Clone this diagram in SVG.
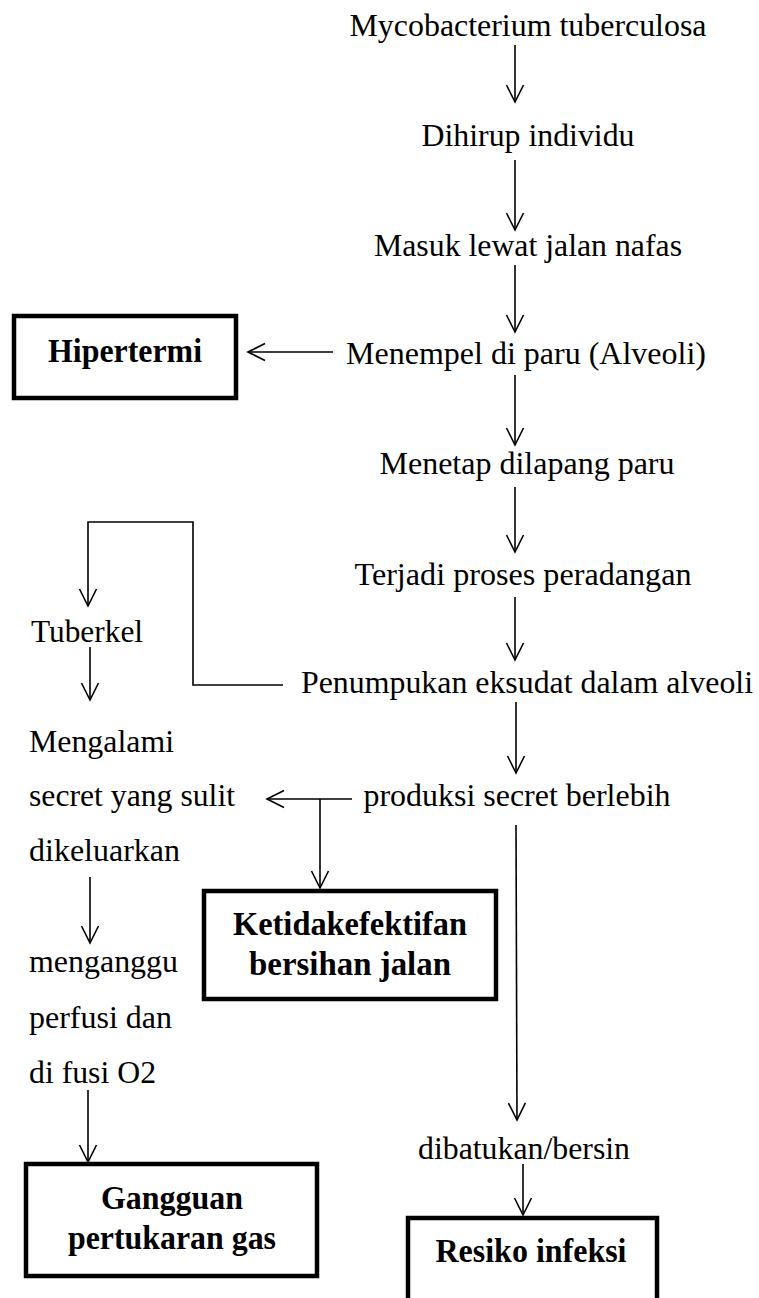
<svg xmlns="http://www.w3.org/2000/svg" width="759" height="1298" viewBox="0 0 759 1298">
<style>
  .t { font-family: "Liberation Serif", "Times New Roman", serif; font-size: 32px; fill: #000; }
  .c { text-anchor: middle; }
  .b { font-family: "Liberation Serif", "Times New Roman", serif; font-size: 34px; font-weight: bold; fill: #000; text-anchor: middle; }
  .box { fill: #fff; stroke: #000; stroke-width: 4.5; }
  .ln { fill: none; stroke: #000; stroke-width: 1.6; }
</style>
<defs>
  <marker id="ah" viewBox="-20 -11 22 22" refX="0" refY="0" markerWidth="22" markerHeight="22" markerUnits="userSpaceOnUse" orient="auto">
    <path d="M-17,-8.5 L0,0 L-17,8.5" fill="none" stroke="#000" stroke-width="1.6"/>
  </marker>
</defs>
<rect x="0" y="0" width="759" height="1298" fill="#fff"/>

<g id="connectors">
  <line class="ln" x1="515" y1="45" x2="515" y2="102" marker-end="url(#ah)"/>
  <line class="ln" x1="515" y1="160" x2="515" y2="230" marker-end="url(#ah)"/>
  <line class="ln" x1="515" y1="265" x2="515" y2="332" marker-end="url(#ah)"/>
  <line class="ln" x1="333" y1="352" x2="248" y2="352" marker-end="url(#ah)"/>
  <line class="ln" x1="515" y1="375" x2="515" y2="445" marker-end="url(#ah)"/>
  <line class="ln" x1="515" y1="487" x2="515" y2="552" marker-end="url(#ah)"/>
  <line class="ln" x1="515" y1="597" x2="515" y2="660" marker-end="url(#ah)"/>
  <polyline class="ln" points="283,685 193,685 193,522 88,522 88,606" marker-end="url(#ah)"/>
  <line class="ln" x1="90" y1="647" x2="90" y2="700" marker-end="url(#ah)"/>
  <line class="ln" x1="516" y1="702" x2="516" y2="773" marker-end="url(#ah)"/>
  <line class="ln" x1="352" y1="799" x2="267" y2="799" marker-end="url(#ah)"/>
  <line class="ln" x1="320" y1="799" x2="320" y2="888" marker-end="url(#ah)"/>
  <line class="ln" x1="516" y1="825" x2="517" y2="1120" marker-end="url(#ah)"/>
  <line class="ln" x1="90" y1="877" x2="90" y2="943" marker-end="url(#ah)"/>
  <line class="ln" x1="88" y1="1090" x2="88" y2="1162" marker-end="url(#ah)"/>
  <line class="ln" x1="523" y1="1164" x2="523" y2="1215" marker-end="url(#ah)"/>
</g>

<g id="n-myco"><text class="t c" x="528" y="36" textLength="357" lengthAdjust="spacingAndGlyphs">Mycobacterium tuberculosa</text></g>
<g id="n-dihirup"><text class="t c" x="528" y="146" textLength="213" lengthAdjust="spacingAndGlyphs">Dihirup individu</text></g>
<g id="n-masuk"><text class="t c" x="528" y="256" textLength="308" lengthAdjust="spacingAndGlyphs">Masuk lewat jalan nafas</text></g>
<g id="n-menempel"><text class="t c" x="526" y="364" textLength="360" lengthAdjust="spacingAndGlyphs">Menempel di paru (Alveoli)</text></g>
<g id="n-hipertermi">
  <rect class="box" x="14" y="316" width="222" height="82"/>
  <text class="b" x="125" y="362" textLength="154" lengthAdjust="spacingAndGlyphs">Hipertermi</text>
</g>
<g id="n-menetap"><text class="t c" x="527" y="474" textLength="295" lengthAdjust="spacingAndGlyphs">Menetap dilapang paru</text></g>
<g id="n-terjadi"><text class="t c" x="523" y="585" textLength="337" lengthAdjust="spacingAndGlyphs">Terjadi proses peradangan</text></g>
<g id="n-penumpukan"><text class="t c" x="527" y="693" textLength="452" lengthAdjust="spacingAndGlyphs">Penumpukan eksudat dalam alveoli</text></g>
<g id="n-tuberkel"><text class="t" x="31" y="642" textLength="112" lengthAdjust="spacingAndGlyphs">Tuberkel</text></g>
<g id="n-mengalami">
  <text class="t" x="29" y="752" textLength="145" lengthAdjust="spacingAndGlyphs">Mengalami</text>
  <text class="t" x="29" y="806" textLength="206" lengthAdjust="spacingAndGlyphs">secret yang sulit</text>
  <text class="t" x="29" y="861" textLength="151" lengthAdjust="spacingAndGlyphs">dikeluarkan</text>
</g>
<g id="n-produksi"><text class="t c" x="517" y="806" textLength="307" lengthAdjust="spacingAndGlyphs">produksi secret berlebih</text></g>
<g id="n-ketidak">
  <rect class="box" x="204" y="891" width="292" height="108"/>
  <text class="b" x="350" y="935" textLength="234" lengthAdjust="spacingAndGlyphs">Ketidakefektifan</text>
  <text class="b" x="350" y="975" textLength="202" lengthAdjust="spacingAndGlyphs">bersihan jalan</text>
</g>
<g id="n-menganggu">
  <text class="t" x="29" y="972" textLength="149" lengthAdjust="spacingAndGlyphs">menganggu</text>
  <text class="t" x="29" y="1028" textLength="143" lengthAdjust="spacingAndGlyphs">perfusi dan</text>
  <text class="t" x="29" y="1083" textLength="127" lengthAdjust="spacingAndGlyphs">di fusi O2</text>
</g>
<g id="n-gangguan">
  <rect class="box" x="26" y="1164" width="291" height="112"/>
  <text class="b" x="172" y="1209" textLength="142" lengthAdjust="spacingAndGlyphs">Gangguan</text>
  <text class="b" x="172" y="1249" textLength="208" lengthAdjust="spacingAndGlyphs">pertukaran gas</text>
</g>
<g id="n-dibatukan"><text class="t c" x="524" y="1159" textLength="212" lengthAdjust="spacingAndGlyphs">dibatukan/bersin</text></g>
<g id="n-resiko">
  <rect class="box" x="408" y="1218" width="249" height="100"/>
  <text class="b" x="531" y="1262" textLength="191" lengthAdjust="spacingAndGlyphs">Resiko infeksi</text>
</g>
</svg>
